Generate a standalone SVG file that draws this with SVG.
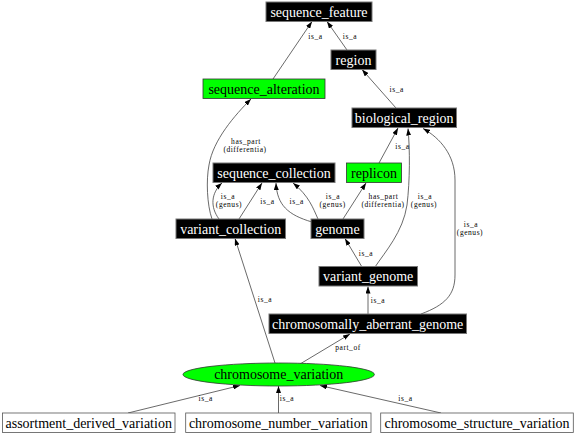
<svg xmlns="http://www.w3.org/2000/svg" width="576" height="435" viewBox="0 0 576 435">
<defs>
<marker id="ah" markerWidth="7" markerHeight="5" refX="7" refY="2.5" orient="auto" markerUnits="userSpaceOnUse">
<path d="M0,0 L7,2.5 L0,5 z" fill="#000"/>
</marker>
<style>
.nb rect{fill:#000;stroke:#777;stroke-width:1}
.ng rect{fill:#00ff00;stroke:#333;stroke-width:0.8}
.nw rect{fill:#fff;stroke:#555;stroke-width:0.8}
.nt{font-family:"Liberation Serif","Times New Roman",serif;font-size:14px;text-anchor:middle}
.nb text{fill:#fff}
.ng text,.nw text{fill:#000}
.e path{fill:none;stroke:#444;stroke-width:0.8;marker-end:url(#ah)}
.l{font-family:"Liberation Serif","Times New Roman",serif;font-size:7.5px;letter-spacing:0.55px;text-anchor:middle;fill:#000}
</style>
</defs>
<rect width="576" height="435" fill="#fff"/>
<g id="connectors" class="e">
<path d="M273,79 L312,21.5"/>
<path d="M347,50 L327,21.5"/>
<path d="M396,108 L362,69.5"/>
<path d="M212,219 C207,205 206,180 209,165 C213,140 235,115 251,99"/>
<path d="M219,219 C210,207 211,193 222,183"/>
<path d="M239,219 L262,183"/>
<path d="M312,222 C288,215 277,205 276,183"/>
<path d="M318,219 C313,208 309,196 293,183"/>
<path d="M343,219 L366,183"/>
<path d="M362,267 L345,238.5"/>
<path d="M375,267 C385,252 403,232 407,205 C410,180 410,150 408,128.5"/>
<path d="M379,163 L398,128"/>
<path d="M421,314 C445,305 455,295 455,275 L455,180 C455,155 440,138 423,128.5"/>
<path d="M368,314 L368,286.5"/>
<path d="M275,363 L235,238.5"/>
<path d="M300,364 L350,334"/>
<path d="M128,413 L240,385.5"/>
<path d="M278.5,413 L278.5,386"/>
<path d="M441,413 L320,385.5"/>
<g id="edge-labels">
<text class="l" x="315.5" y="38.5">is_a</text>
<text class="l" x="350" y="38.5">is_a</text>
<text class="l" x="396.7" y="91.5">is_a</text>
<text class="l" x="246" y="143.5">has_part</text>
<text class="l" x="245" y="152">(differentia)</text>
<text class="l" x="228" y="198.5">is_a</text>
<text class="l" x="229" y="207">(genus)</text>
<text class="l" x="267.5" y="204">is_a</text>
<text class="l" x="296.7" y="204">is_a</text>
<text class="l" x="333" y="198.5">is_a</text>
<text class="l" x="332.6" y="207">(genus)</text>
<text class="l" x="383.5" y="198.5">has_part</text>
<text class="l" x="383" y="207">(differentia)</text>
<text class="l" x="425" y="198.5">is_a</text>
<text class="l" x="424" y="207">(genus)</text>
<text class="l" x="402.5" y="148.5">is_a</text>
<text class="l" x="471" y="226.5">is_a</text>
<text class="l" x="470" y="235">(genus)</text>
<text class="l" x="366" y="256">is_a</text>
<text class="l" x="378" y="303">is_a</text>
<text class="l" x="265" y="302">is_a</text>
<text class="l" x="348" y="350">part_of</text>
<text class="l" x="205.7" y="401">is_a</text>
<text class="l" x="287" y="401">is_a</text>
<text class="l" x="405.5" y="401">is_a</text>
</g>
</g>
<g id="sequence_feature" class="nb"><rect x="266" y="2" width="106" height="19.5"/><text class="nt" x="319" y="16.5">sequence_feature</text></g>
<g id="region" class="nb"><rect x="331" y="50" width="45" height="19.5"/><text class="nt" x="353.5" y="64.5">region</text></g>
<g id="sequence_alteration" class="ng"><rect x="203" y="79" width="122" height="19.5"/><text class="nt" x="264" y="93.5">sequence_alteration</text></g>
<g id="biological_region" class="nb"><rect x="352" y="108" width="104.5" height="19.5"/><text class="nt" x="404.2" y="122.5">biological_region</text></g>
<g id="sequence_collection" class="nb"><rect x="213" y="163" width="122" height="19.5"/><text class="nt" x="274" y="177.5">sequence_collection</text></g>
<g id="replicon" class="ng"><rect x="346.5" y="163" width="55" height="19.5"/><text class="nt" x="374" y="177.5">replicon</text></g>
<g id="variant_collection" class="nb"><rect x="176" y="219" width="109.5" height="19.5"/><text class="nt" x="230.7" y="233.5">variant_collection</text></g>
<g id="genome" class="nb"><rect x="311" y="219" width="53" height="19.5"/><text class="nt" x="337.5" y="233.5">genome</text></g>
<g id="variant_genome" class="nb"><rect x="319" y="266.5" width="98.5" height="19.5"/><text class="nt" x="368.2" y="281">variant_genome</text></g>
<g id="chromosomally_aberrant_genome" class="nb"><rect x="269" y="314" width="197.5" height="19.5"/><text class="nt" x="367.7" y="328.5">chromosomally_aberrant_genome</text></g>
<g id="chromosome_variation" class="ng"><ellipse cx="278.7" cy="374.5" rx="95.7" ry="11.5" fill="#00ff00" stroke="#333" stroke-width="0.8"/><text class="nt" x="278.7" y="379">chromosome_variation</text></g>
<g id="assortment_derived_variation" class="nw"><rect x="2.5" y="413" width="172.5" height="19.5"/><text class="nt" x="88.7" y="427.5">assortment_derived_variation</text></g>
<g id="chromosome_number_variation" class="nw"><rect x="185.7" y="413" width="185.3" height="19.5"/><text class="nt" x="278.3" y="427.5">chromosome_number_variation</text></g>
<g id="chromosome_structure_variation" class="nw"><rect x="380.7" y="413" width="192.6" height="19.5"/><text class="nt" x="477" y="427.5">chromosome_structure_variation</text></g>
</svg>
